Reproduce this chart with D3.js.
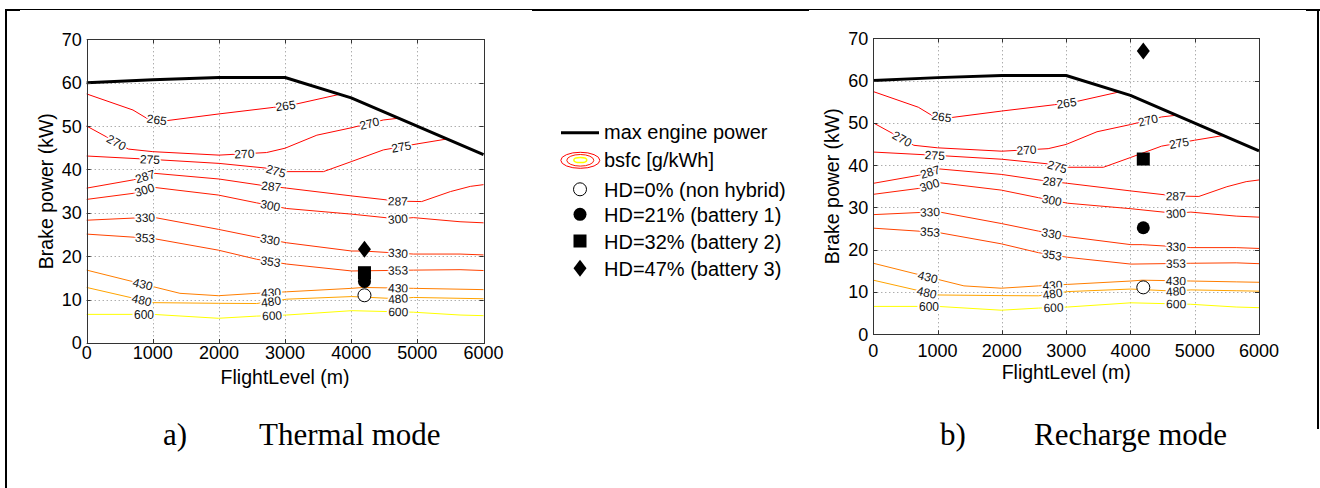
<!DOCTYPE html>
<html><head><meta charset="utf-8">
<script src="https://cdn.jsdelivr.net/npm/d3@7"></script>
<style>
body{margin:0;background:#fff}
svg{display:block}
text{font-family:Arial,"Liberation Sans",Helvetica,sans-serif}
text.cap{font-family:"Liberation Serif","Times New Roman",serif}
text.clab{paint-order:stroke;stroke:#fff;stroke-width:3.5px;stroke-linejoin:round}
</style>
</head><body>
<svg id="c" width="1320" height="488"></svg>
<script>
// ---------------- data ----------------
const xTicks = [0, 1000, 2000, 3000, 4000, 5000, 6000];
const yTicks = [0, 10, 20, 30, 40, 50, 60, 70];

const maxPowerFL = [0, 1000, 2000, 3000, 4000, 6000];
const maxPowerKW = [60, 60.7, 61.2, 61.2, 56.5, 43.4];

// bsfc iso-lines [flight level (m), brake power (kW)]
const c265 = [[0,57.4],[700,53.7],[907,51.8],[1184,51.2],[2000,52.8],[2822,54.3],[3175,55.1],[3820,57.3]];
const c270 = [[0,50.0],[300,47.5],[630,44.7],[1000,44.1],[2000,43.3],[2720,43.9],[3000,44.9],[3480,47.9],[4000,49.6],[4485,51.4],[4710,51.8]];
const c275 = [[0,43.1],[1000,42.3],[2000,41.4],[2720,40.3],[2900,39.5],[3580,39.5],[4000,41.8],[4485,44.5],[5000,45.9],[5440,47.0]];
const c287 = [[0,35.7],[705,37.6],[1033,39.1],[2000,37.8],[2620,36.4],[3024,35.7],[4007,33.9],[4700,32.7],[5065,32.6],[5500,34.9],[5800,36.1],[6000,36.5]];
const c300 = [[0,33.1],[705,34.5],[1000,35.9],[1990,34.1],[2570,32.3],[3024,31.0],[4007,29.7],[4700,28.6],[4940,28.9],[5645,27.95],[6000,27.7]];
const c330 = [[0,28.3],[1000,29.0],[1990,26.2],[2570,24.4],[3024,23.1],[4007,21.2],[4183,21.2],[4940,20.5],[5645,20.5],[6000,20.3]];
const c353 = [[0,25.1],[1000,24.1],[1990,21.4],[2570,19.3],[3024,18.2],[4007,16.6],[4940,16.8],[5645,16.9],[6000,16.7]];
const c430 = [[0,16.8],[1000,13.0],[1410,11.45],[1990,10.9],[2570,11.45],[3024,11.8],[4007,12.6],[4183,12.8],[4940,12.6],[5645,12.4],[6000,12.3]];
const c480 = [[0,12.8],[1000,9.3],[1990,9.15],[2570,9.1],[3024,10.1],[4007,10.7],[4700,10.2],[4940,10.5],[5645,10.3],[6000,10.2]];
const c600 = [[0,6.6],[1000,6.6],[1990,5.7],[2570,6.2],[3024,6.45],[4007,7.45],[4939,7.1],[5645,6.45],[6000,6.3]];

const contourLevels = [265, 270, 275, 287, 300, 330, 353, 430, 480, 600];
const contourLines  = [c265, c270, c275, c287, c300, c330, c353, c430, c480, c600];
const labelFL = [[1060,3006],[450,2384,4274],[957,2863,4756],[882,2790,4705],[874,2777,4705],[882,2772,4708],[882,2780,4708],[849,2787,4708],[831,2787,4708],[867,2803,4712]];

const markerFL = 4200;
const thermalKW  = [11.0, 14.2, 16.2, 21.6];   // HD 0%, 21%, 32%, 47%
const rechargeKW = [11.1, 25.2, 41.45, 67.0];
const hdLabels = ["HD=0% (non hybrid)", "HD=21% (battery 1)", "HD=32% (battery 2)", "HD=47% (battery 3)"];
const hdShapes = ["openCircle", "circle", "square", "diamond"];

const captions = [["a)", "Thermal mode"], ["b)", "Recharge mode"]];

// ---------------- drawing ----------------
const svg = d3.select("#c");
const color = v => d3.interpolateRgb("#ff0000", "#ffff00")((v - 265) / (600 - 265));

// page frame
const frame = svg.append("g").attr("fill", "#000");
frame.append("rect").attr("x", 5).attr("y", 9).attr("width", 1314).attr("height", 1);
frame.append("rect").attr("x", 532).attr("y", 9).attr("width", 277).attr("height", 2);
frame.append("rect").attr("x", 5).attr("y", 9).attr("width", 15).attr("height", 2);
frame.append("rect").attr("x", 1306).attr("y", 9).attr("width", 14).attr("height", 2);
frame.append("rect").attr("x", 5).attr("y", 9).attr("width", 2).attr("height", 479);
frame.append("rect").attr("x", 1317).attr("y", 9).attr("width", 2).attr("height", 420);

function drawMarker(g, shape, cx, cy) {
  if (shape === "openCircle") {
    g.append("circle").attr("cx", cx).attr("cy", cy).attr("r", 6.5)
      .attr("fill", "#fff").attr("stroke", "#000").attr("stroke-width", 1);
  } else if (shape === "circle") {
    g.append("circle").attr("cx", cx).attr("cy", cy).attr("r", 6.5).attr("fill", "#000");
  } else if (shape === "square") {
    g.append("rect").attr("x", cx - 6.5).attr("y", cy - 6.5).attr("width", 13).attr("height", 13).attr("fill", "#000");
  } else {
    g.append("path").attr("d", `M${cx},${cy-8.5}L${cx+6.5},${cy}L${cx},${cy+8.5}L${cx-6.5},${cy}Z`).attr("fill", "#000");
  }
}

function panel(cfg) {
  const x = d3.scaleLinear().domain([0, 6000]).range([cfg.x0, cfg.x1]);
  const y = d3.scaleLinear().domain([0, 70]).range([cfg.y1, cfg.y0]);
  const g = svg.append("g");

  // grid
  const grid = g.append("g").attr("stroke", "#8a8a8a").attr("stroke-width", 1).attr("stroke-dasharray", "1,3");
  xTicks.slice(1, -1).forEach(t => grid.append("line")
    .attr("x1", Math.round(x(t)) + 0.5).attr("x2", Math.round(x(t)) + 0.5)
    .attr("y1", cfg.y0).attr("y2", cfg.y1));
  yTicks.slice(1, -1).forEach(t => grid.append("line")
    .attr("y1", Math.round(y(t)) + 0.5).attr("y2", Math.round(y(t)) + 0.5)
    .attr("x1", cfg.x0).attr("x2", cfg.x1));

  // contours
  const line = d3.line().x(d => x(d[0])).y(d => y(d[1]));
  contourLines.forEach((pts, i) => {
    g.append("path").attr("d", line(pts)).attr("fill", "none")
      .attr("stroke", color(contourLevels[i])).attr("stroke-width", 1);
  });
  // contour labels (inline, breaking the line with a white halo)
  contourLines.forEach((pts, i) => {
    labelFL[i].forEach(fl => {
      let k = 0;
      while (k < pts.length - 2 && pts[k + 1][0] < fl) k++;
      const a = pts[k], b = pts[k + 1];
      const t = (fl - a[0]) / (b[0] - a[0]);
      const p = a[1] + t * (b[1] - a[1]);
      const px = x(fl), py = y(p);
      const ang = Math.atan2(y(b[1]) - y(a[1]), x(b[0]) - x(a[0])) * 180 / Math.PI;
      g.append("text").attr("class", "clab").text(contourLevels[i])
        .attr("transform", `translate(${px},${py}) rotate(${ang})`)
        .attr("text-anchor", "middle").attr("dy", "0.36em")
        .attr("font-size", 12).attr("fill", "#111");
    });
  });

  // max engine power
  g.append("path").attr("d", line(maxPowerFL.map((f, i) => [f, maxPowerKW[i]])))
    .attr("fill", "none").attr("stroke", "#000").attr("stroke-width", 3).attr("stroke-linejoin", "round");

  // markers
  [3, 2, 1, 0].forEach(j => drawMarker(g, hdShapes[j], x(markerFL), y(cfg.values[j])));

  // axes box and ticks
  const ax = g.append("g").attr("stroke", "#333").attr("stroke-width", 1).attr("fill", "none");
  ax.append("rect").attr("x", Math.round(cfg.x0) + 0.5).attr("y", Math.round(cfg.y0) + 0.5)
    .attr("width", Math.round(cfg.x1) - Math.round(cfg.x0)).attr("height", Math.round(cfg.y1) - Math.round(cfg.y0));
  xTicks.forEach(t => {
    const xx = Math.round(x(t)) + 0.5;
    ax.append("line").attr("x1", xx).attr("x2", xx).attr("y1", cfg.y1).attr("y2", cfg.y1 - 4);
    ax.append("line").attr("x1", xx).attr("x2", xx).attr("y1", cfg.y0).attr("y2", cfg.y0 + 4);
  });
  yTicks.forEach(t => {
    const yy = Math.round(y(t)) + 0.5;
    ax.append("line").attr("x1", cfg.x0).attr("x2", cfg.x0 + 4).attr("y1", yy).attr("y2", yy);
    ax.append("line").attr("x1", cfg.x1).attr("x2", cfg.x1 - 4).attr("y1", yy).attr("y2", yy);
  });

  // tick labels
  xTicks.forEach(t => g.append("text").text(t).attr("x", x(t)).attr("y", cfg.xTickBase)
    .attr("text-anchor", "middle").attr("font-size", 18).attr("fill", "#000"));
  yTicks.forEach(t => g.append("text").text(t).attr("x", cfg.x0 - 5).attr("y", y(t)).attr("dy", "0.36em")
    .attr("text-anchor", "end").attr("font-size", 18).attr("fill", "#000"));

  // axis titles
  g.append("text").text("FlightLevel (m)").attr("x", (cfg.x0 + cfg.x1) / 2).attr("y", cfg.xLabBase)
    .attr("text-anchor", "middle").attr("font-size", 19.5).attr("fill", "#000");
  g.append("text").text("Brake power (kW)")
    .attr("transform", `translate(${cfg.yLabX},${(cfg.y0 + cfg.y1) / 2}) rotate(-90)`)
    .attr("text-anchor", "middle").attr("font-size", 19.5).attr("fill", "#000");
}

panel({x0: 86.7, x1: 483.5, y0: 39.3, y1: 343, values: thermalKW, xTickBase: 358.5, xLabBase: 384, yLabX: 53});
panel({x0: 873.3, x1: 1259, y0: 38.3, y1: 334.3, values: rechargeKW, xTickBase: 357, xLabBase: 378.5, yLabX: 839});

// legend
const lg = svg.append("g");
lg.append("line").attr("x1", 561).attr("x2", 599).attr("y1", 132.7).attr("y2", 132.7)
  .attr("stroke", "#000").attr("stroke-width", 3);
lg.append("text").text("max engine power").attr("x", 604).attr("y", 139.3).attr("font-size", 20);
lg.append("ellipse").attr("cx", 580.3).attr("cy", 160.3).attr("rx", 19.5).attr("ry", 8).attr("fill", "none").attr("stroke", color(265)).attr("stroke-width", 1);
lg.append("ellipse").attr("cx", 580.3).attr("cy", 160.3).attr("rx", 13.5).attr("ry", 5.8).attr("fill", "none").attr("stroke", color(300)).attr("stroke-width", 1);
lg.append("ellipse").attr("cx", 580.3).attr("cy", 160).attr("rx", 6.5).attr("ry", 2.6).attr("fill", "none").attr("stroke", color(600)).attr("stroke-width", 1.5);
lg.append("text").text("bsfc [g/kWh]").attr("x", 604).attr("y", 166.7).attr("font-size", 20);
const legRows = [189.3, 214.3, 241, 268.3];
hdLabels.forEach((lab, j) => {
  drawMarker(lg, hdShapes[j], 580, legRows[j]);
  lg.append("text").text(lab).attr("x", 604).attr("y", legRows[j] + 8).attr("font-size", 20);
});

// captions
const capPos = [[163, 259], [940, 1034]];
captions.forEach((c, i) => {
  svg.append("text").attr("class", "cap").text(c[0]).attr("x", capPos[i][0]).attr("y", 445).attr("font-size", 31);
  svg.append("text").attr("class", "cap").text(c[1]).attr("x", capPos[i][1]).attr("y", 445).attr("font-size", 31);
});
</script>
</body></html>
